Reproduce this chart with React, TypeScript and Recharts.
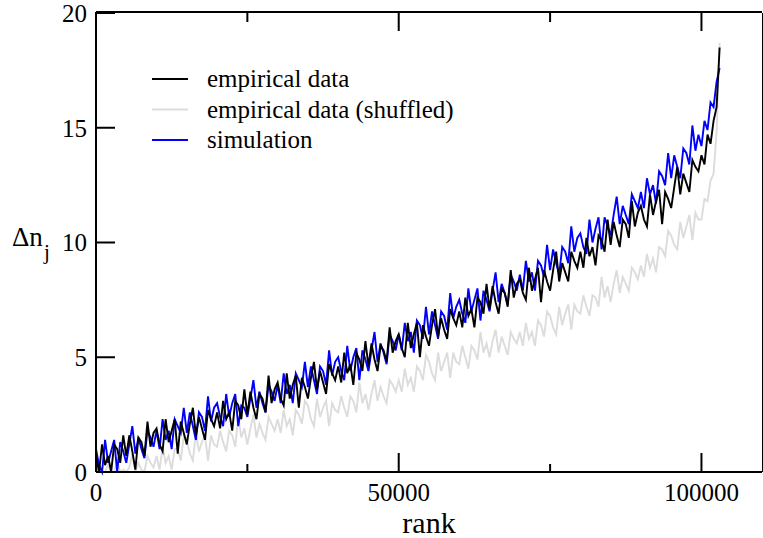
import { LineChart, Line, XAxis, YAxis, Label } from 'recharts';

// samples are 500 ranks apart
const RANK_STEP = 500;

const empirical = [
  0.7, 0.0, 1.2, 0.3, 0.7, 0.0, 1.2, 1.0, 0.4, 1.6,
  0.7, 1.6, 0.9, 0.1, 1.5, 1.3, 0.7, 2.2, 1.1, 1.7,
  1.9, 1.2, 0.9, 2.3, 1.3, 1.8, 2.3, 0.8, 2.2, 1.7,
  1.2, 2.1, 2.8, 1.6, 2.4, 1.9, 1.4, 2.7, 2.3, 2.0,
  2.6, 1.9, 3.1, 2.3, 2.6, 1.8, 3.1, 2.9, 2.3, 3.6,
  2.5, 3.5, 2.8, 2.3, 3.4, 3.2, 2.6, 4.2, 3.0, 3.6,
  3.9, 3.2, 2.9, 4.3, 3.2, 3.8, 4.2, 2.8, 4.1, 3.7,
  3.2, 4.1, 4.8, 3.6, 4.4, 3.9, 3.4, 4.7, 4.3, 4.0,
  4.6, 3.9, 5.2, 4.3, 4.7, 3.8, 5.2, 4.9, 4.4, 5.7,
  4.6, 5.6, 4.9, 4.4, 5.5, 5.3, 4.8, 6.3, 5.2, 5.7,
  6.0, 5.4, 5.0, 6.5, 5.4, 6.0, 6.5, 5.0, 6.4, 5.9,
  5.5, 6.4, 7.1, 5.9, 6.7, 6.2, 5.8, 7.1, 6.7, 6.4,
  7.0, 6.3, 7.6, 6.8, 7.1, 6.3, 7.6, 7.4, 6.9, 8.2,
  7.1, 8.1, 7.4, 6.9, 8.0, 7.8, 7.2, 8.8, 7.6, 8.2,
  8.4, 7.8, 7.5, 8.9, 7.9, 8.4, 8.9, 7.4, 8.8, 8.3,
  7.9, 8.8, 9.6, 8.3, 9.1, 8.7, 8.3, 9.6, 9.2, 8.9,
  9.6, 8.9, 10.2, 9.4, 9.8, 9.0, 10.3, 10.1, 9.6, 11.0,
  9.9, 10.9, 10.3, 9.8, 11.0, 10.8, 10.2, 11.8, 10.7, 11.3,
  11.6, 11.0, 10.7, 12.1, 11.2, 11.8, 12.3, 10.8, 12.2, 11.9,
  11.5, 12.4, 13.3, 12.1, 13.0, 12.6, 12.2, 13.6, 13.3, 13.1,
  13.8, 13.4, 14.7, 14.3, 15.3, 15.9, 18.5,
];

const shuffled = [
  0.0, 0.2, 0.0, 0.0, 0.3, 0.0, 0.0, 0.5, 0.0, 0.1,
  0.0, 0.2, 0.8, 0.0, 0.4, 0.1, 0.0, 0.7, 0.4, 0.2,
  0.7, 0.1, 1.1, 0.4, 0.7, 0.1, 1.0, 1.0, 0.5, 1.6,
  1.4, 0.8, 0.5, 1.7, 0.9, 1.3, 1.6, 0.5, 1.6, 1.2,
  1.1, 1.8, 1.3, 0.9, 1.8, 1.6, 1.1, 2.4, 1.5, 1.9,
  1.2, 1.9, 2.5, 1.5, 2.1, 1.7, 1.4, 2.4, 2.1, 1.8,
  2.3, 1.7, 2.7, 2.0, 2.3, 1.6, 2.7, 2.5, 2.1, 3.1,
  2.9, 2.3, 2.0, 3.2, 2.4, 2.8, 3.1, 2.0, 3.0, 2.7,
  2.6, 3.3, 2.8, 2.4, 3.3, 3.1, 2.6, 3.9, 3.0, 3.4,
  2.7, 3.4, 4.0, 3.1, 3.7, 3.3, 3.0, 4.0, 3.8, 3.5,
  4.0, 3.5, 4.5, 3.8, 4.1, 3.5, 4.6, 4.4, 4.0, 5.1,
  4.8, 4.3, 4.0, 5.2, 4.4, 4.8, 5.2, 4.1, 5.2, 4.8,
  4.7, 5.5, 5.0, 4.5, 5.5, 5.3, 4.9, 6.1, 5.2, 5.6,
  5.0, 5.7, 6.2, 5.2, 5.9, 5.5, 5.1, 6.1, 5.8, 5.6,
  6.1, 5.5, 6.5, 5.8, 6.1, 5.5, 6.6, 6.4, 5.9, 7.0,
  6.8, 6.3, 6.0, 7.2, 6.4, 6.9, 7.3, 6.2, 7.3, 7.0,
  6.9, 7.7, 7.2, 6.8, 7.7, 7.6, 7.2, 8.5, 7.6, 8.1,
  7.4, 8.2, 8.8, 7.8, 8.5, 8.2, 7.9, 8.9, 8.7, 8.4,
  9.0, 8.5, 9.5, 8.9, 9.3, 8.7, 9.8, 9.7, 9.4, 10.5,
  10.3, 9.9, 9.7, 10.9, 10.2, 10.7, 11.2, 10.1, 11.3, 11.0,
  11.0, 11.9, 11.8, 12.7, 13.0, 14.8, 18.7,
];

const simulation = [
  1.0, 0.3, 0.0, 1.4, 0.4, 0.9, 1.4, 0.0, 1.3, 0.9,
  0.4, 1.2, 2.0, 0.8, 1.5, 1.0, 0.6, 1.8, 1.5, 1.1,
  1.8, 1.0, 2.3, 1.4, 1.8, 1.0, 2.3, 2.0, 1.7, 2.8,
  1.7, 2.6, 2.0, 1.4, 2.6, 2.4, 1.8, 3.3, 2.2, 2.8,
  3.0, 2.4, 2.0, 3.4, 2.4, 3.0, 3.4, 2.0, 2.9, 2.8,
  2.4, 3.2, 4.0, 2.8, 3.5, 3.0, 2.6, 3.8, 3.5, 3.1,
  3.8, 3.0, 4.3, 3.4, 3.8, 3.0, 4.3, 4.0, 3.7, 4.8,
  3.7, 4.6, 4.0, 3.4, 4.6, 4.4, 3.8, 5.3, 4.2, 4.8,
  5.0, 4.4, 4.0, 5.5, 4.4, 5.0, 5.4, 4.0, 5.3, 4.9,
  4.4, 5.3, 6.1, 4.8, 5.6, 5.2, 4.7, 6.0, 5.7, 5.3,
  6.0, 5.3, 6.5, 5.7, 6.1, 5.2, 6.6, 6.4, 5.8, 7.2,
  6.0, 7.0, 6.4, 5.8, 7.0, 6.8, 6.2, 7.8, 6.7, 7.2,
  7.5, 6.9, 6.5, 8.0, 7.0, 7.5, 8.0, 6.6, 7.9, 7.5,
  7.0, 7.9, 8.7, 7.4, 8.2, 7.8, 7.3, 8.6, 8.3, 7.9,
  8.6, 7.9, 9.2, 8.3, 8.7, 7.9, 9.2, 9.0, 8.5, 9.9,
  8.8, 9.7, 9.1, 8.6, 9.8, 9.6, 9.1, 10.7, 9.6, 10.2,
  10.4, 9.8, 9.5, 11.0, 10.0, 10.6, 11.1, 9.7, 11.1, 10.7,
  10.3, 11.2, 12.0, 10.8, 11.6, 11.2, 10.8, 12.1, 11.8, 11.5,
  12.2, 11.5, 12.8, 12.1, 12.5, 11.7, 13.1, 12.9, 12.5, 13.9,
  12.8, 13.8, 13.3, 12.8, 14.1, 13.9, 13.4, 15.1, 14.0, 14.7,
  14.2, 15.3, 14.9, 16.1, 15.9, 17.0, 17.6,
];

const xTicks = [0, 50000, 100000];
const xMinorTicks = [25000, 75000];
const yTicks = [0, 5, 10, 15, 20];
const yMinorTicks = [2.5, 7.5, 12.5, 17.5];

const series = [
  { key: 'emp', name: 'empirical data', color: '#000000' },
  { key: 'shuf', name: 'empirical data (shuffled)', color: '#dcdcdc' },
  { key: 'sim', name: 'simulation', color: '#0000ff' },
];

const data = empirical.map((v, i) => ({
  rank: i * RANK_STEP,
  emp: v,
  shuf: shuffled[i],
  sim: simulation[i],
}));

const FONT = '"Liberation Serif", "Times New Roman", serif';
const tickStyle = { fontFamily: FONT, fontSize: 25, fill: '#000' };
const axisStroke = { stroke: '#000', strokeWidth: 2 };
const noTick = () => <g />;
const X_DOMAIN = [0, 110000];
const Y_DOMAIN = [0, 20];

function YLabel({ viewBox }: any) {
  const x = viewBox.x - 83;
  const y = viewBox.y + viewBox.height / 2 + 3;
  return (
    <text x={x} y={y} fontFamily={FONT} fontSize={27} fill="#000">
      Δn
      <tspan dx={1} dy={13} fontSize={21}>j</tspan>
    </text>
  );
}

function LegendBox() {
  return (
    <svg
      width={400}
      height={100}
      style={{ position: 'absolute', left: 140, top: 60, overflow: 'visible' }}
    >
      {series.map((s, i) => (
        <g key={s.key}>
          <line x1={12} x2={48} y1={19 + i * 30.5} y2={19 + i * 30.5} stroke={s.color} strokeWidth={2} />
          <text x={67} y={19 + i * 30.5} dy="0.33em" fontFamily={FONT} fontSize={25} fill="#000">
            {s.name}
          </text>
        </g>
      ))}
    </svg>
  );
}

export default function App() {
  return (
    <div style={{ position: 'absolute', left: 0, top: 0, width: 763, height: 538, background: '#fff' }}>
      <LineChart width={763} height={538} data={data} margin={{ top: 11, right: -1, bottom: 64, left: 94 }}>
        <XAxis dataKey="rank" type="number" domain={X_DOMAIN} ticks={xTicks} height={1}
          tickSize={-19} tickMargin={30} tick={tickStyle} axisLine={axisStroke} tickLine={axisStroke}
          interval={0}>
          <Label value="rank" position="bottom" offset={39}
            style={{ fontFamily: FONT, fontSize: 30, fill: '#000' }} />
        </XAxis>
        <XAxis xAxisId="top" orientation="top" dataKey="rank" type="number" domain={X_DOMAIN} ticks={xTicks}
          height={1} tickSize={-19} tick={noTick} axisLine={axisStroke} tickLine={axisStroke} interval={0} />
        <YAxis type="number" domain={Y_DOMAIN} ticks={yTicks} width={1} tickSize={-19} tickMargin={28}
          tick={tickStyle} axisLine={axisStroke} tickLine={axisStroke} interval={0}>
          <Label content={<YLabel />} />
        </YAxis>
        <YAxis yAxisId="right" orientation="right" type="number" domain={Y_DOMAIN} ticks={yTicks}
          width={1} tickSize={-19} tick={noTick} axisLine={axisStroke} tickLine={axisStroke} interval={0} />

        {/* minor ticks */}
        <XAxis xAxisId="minB" dataKey="rank" type="number" domain={X_DOMAIN} ticks={xMinorTicks}
          height={1} tickSize={-9} tick={noTick} axisLine={false} tickLine={axisStroke} interval={0} />
        <XAxis xAxisId="minT" orientation="top" dataKey="rank" type="number" domain={X_DOMAIN} ticks={xMinorTicks}
          height={1} tickSize={-9} tick={noTick} axisLine={false} tickLine={axisStroke} interval={0} />
        <YAxis yAxisId="minL" type="number" domain={Y_DOMAIN} ticks={yMinorTicks}
          width={1} tickSize={-10} tick={noTick} axisLine={false} tickLine={axisStroke} interval={0} />
        <YAxis yAxisId="minR" orientation="right" type="number" domain={Y_DOMAIN} ticks={yMinorTicks}
          width={1} tickSize={-10} tick={noTick} axisLine={false} tickLine={axisStroke} interval={0} />

        <Line dataKey="shuf" stroke="#dcdcdc" strokeWidth={1.9} dot={false} isAnimationActive={false} />
        <Line dataKey="sim" stroke="#0000ff" strokeWidth={1.9} dot={false} isAnimationActive={false} />
        <Line dataKey="emp" stroke="#000000" strokeWidth={1.9} dot={false} isAnimationActive={false} />
      </LineChart>
      <LegendBox />
    </div>
  );
}
